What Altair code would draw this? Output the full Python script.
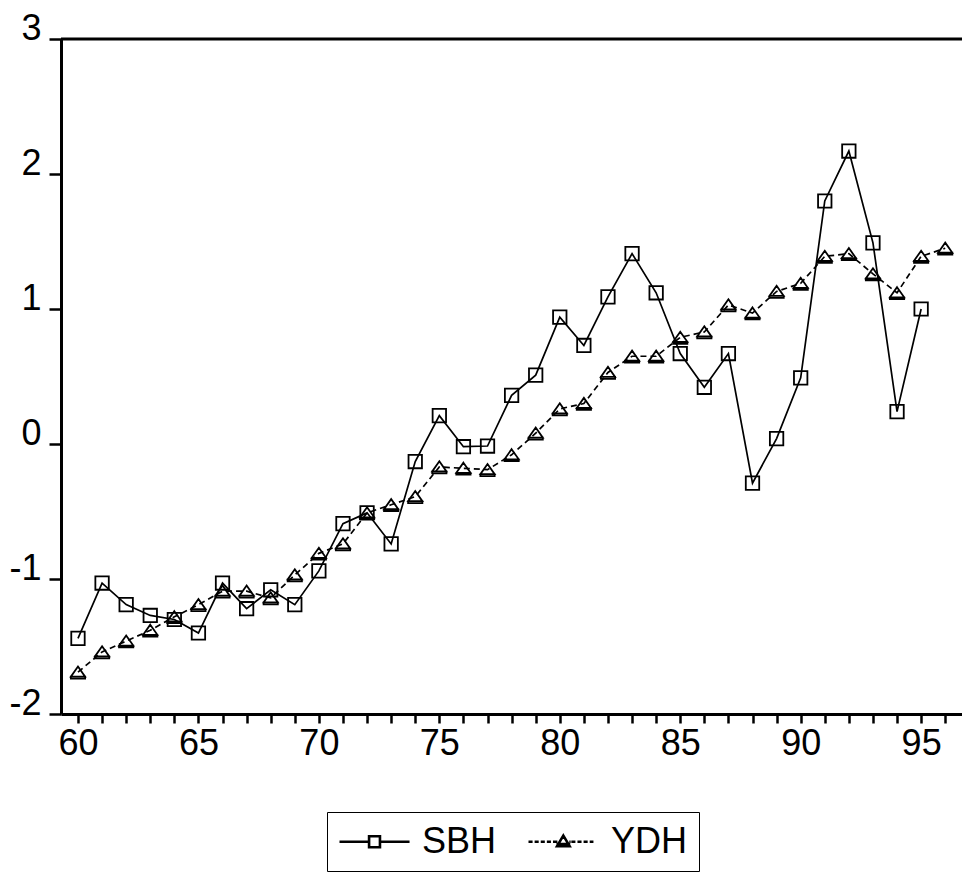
import altair as alt
import pandas as pd

# ---- data ----
years = list(range(60, 97))
sbh = [-1.44, -1.03, -1.19, -1.27, -1.30, -1.40, -1.03, -1.22, -1.08, -1.19,
       -0.94, -0.59, -0.51, -0.74, -0.13, 0.21, -0.02, -0.015, 0.36, 0.51,
       0.94, 0.73, 1.09, 1.41, 1.12, 0.67, 0.42, 0.67, -0.29, 0.04,
       0.49, 1.80, 2.17, 1.49, 0.24, 1.00]            # 1960-1995
ydh = [-1.69, -1.54, -1.46, -1.38, -1.28, -1.19, -1.09, -1.09, -1.14, -0.97,
       -0.81, -0.74, -0.51, -0.45, -0.39, -0.17, -0.18, -0.19, -0.08, 0.08,
       0.26, 0.30, 0.53, 0.65, 0.65, 0.79, 0.83, 1.03, 0.97, 1.13,
       1.19, 1.39, 1.41, 1.26, 1.12, 1.39, 1.45]      # 1960-1996
series_names = ["SBH", "YDH"]
tick_years = list(range(60, 97))
y_ticks = [-2, -1, 0, 1, 2, 3]
y_top = [3]

rows = []
for yr, v in zip(years, sbh):
    rows.append({"year": yr, "value": v, "series": "SBH"})
for yr, v in zip(years, ydh):
    rows.append({"year": yr, "value": v, "series": "YDH"})
df = pd.DataFrame(rows)

FONT = "Liberation Sans"

# ---- marker / legend symbol shapes (style) ----
TRI = "M0,-0.75 L0.95,0.6 L-0.95,0.6 Z M-0.95,0.6 H0.95 V0.85 H-0.95 Z"

def sbh_symbol():
    return "M-1,0 H0.74 M1.38,0 H3.12 M0.74,-0.32 H1.38 V0.32 H0.74 Z"

def ydh_symbol():
    parts = []
    x = -1.0
    end = 2.82
    while x < end:
        x2 = min(x + 0.24, end)
        if not (0.66 < x < 1.44):
            parts.append(f"M{x:.2f},0 H{x2:.2f}")
        x = x2 + 0.12
    parts.append("M1.05,-0.36 L1.42,0.26 L0.68,0.26 Z M0.72,0.14 H1.38 V0.26 H0.72 Z "
                 "M0.62,0 H0.70 M1.40,0 H1.48")
    return " ".join(parts)

W = 901
xscale = alt.Scale(domain=[59.295, 59.295 + W / 24.09], nice=False, zero=False)
yscale = alt.Scale(domain=[-2, 3], nice=False, zero=False)

xaxis = alt.Axis(values=tick_years,
                 labelExpr="datum.value % 5 == 0 ? '' + datum.value : ''",
                 title=None, grid=False, tickSize=9, tickWidth=2.5, domainWidth=3,
                 domainColor="black", tickColor="black", labelColor="black",
                 labelFont=FONT, labelFontSize=36, labelPadding=3,
                 labelFlush=False, labelOverlap=False)
yaxis = alt.Axis(values=y_ticks, labelExpr="'' + datum.value",
                 title=None, grid=False, tickSize=12, tickWidth=2.5, domainWidth=3,
                 domainColor="black", tickColor="black", labelColor="black",
                 labelFont=FONT, labelFontSize=36, labelPadding=8,
                 labelBaseline="alphabetic", labelFlush=False, labelOverlap=False)

base = alt.Chart()

line_sbh = base.transform_filter(alt.datum.series == "SBH").mark_line(
    color="black", strokeWidth=1.7)
line_ydh = base.transform_filter(alt.datum.series == "YDH").mark_line(
    color="black", strokeWidth=1.7, strokeDash=[6, 4])

pts_sbh = base.transform_filter(alt.datum.series == "SBH").mark_point(
    shape="square", size=180, filled=False, color="black", strokeWidth=1.8, opacity=1
)
pts_ydh = base.transform_filter(alt.datum.series == "YDH").mark_point(
    shape=TRI, size=225, filled=False, color="black", strokeWidth=1.8, opacity=1
)

legend_layer = base.mark_point(opacity=0, color="black", filled=False).encode(
    shape=alt.Shape("series:N",
                    scale=alt.Scale(domain=series_names, range=[sbh_symbol(), ydh_symbol()]),
                    legend=alt.Legend(title=None, orient="none", legendX=266, legendY=773,
                                      direction="horizontal", symbolSize=1156,
                                      symbolStrokeWidth=2.6, symbolStrokeColor="black",
                                      symbolFillColor="white", symbolOpacity=1,
                                      labelFontSize=36, labelFont=FONT, labelColor="black",
                                      labelOffset=47, columnPadding=26, padding=11,
                                      strokeColor="black")),
)

series_layer = alt.layer(line_sbh, line_ydh, pts_sbh, pts_ydh, legend_layer, data=df).encode(
    x=alt.X("year:Q", scale=xscale, axis=xaxis),
    y=alt.Y("value:Q", scale=yscale, axis=yaxis),
)

top_frame = alt.Chart(pd.DataFrame({"top": y_top})).mark_rule(
    color="black", strokeWidth=3
).encode(y=alt.Y("top:Q", scale=yscale, axis=yaxis))

chart = alt.layer(series_layer, top_frame).properties(
    width=W, height=675,
    autosize=alt.AutoSizeParams(type="none"),
    padding={"left": 61, "top": 39, "right": 0, "bottom": 158},
    background="white",
).configure_view(stroke=None)

chart.save("out.html", embed_options={"renderer": "svg", "actions": False})
